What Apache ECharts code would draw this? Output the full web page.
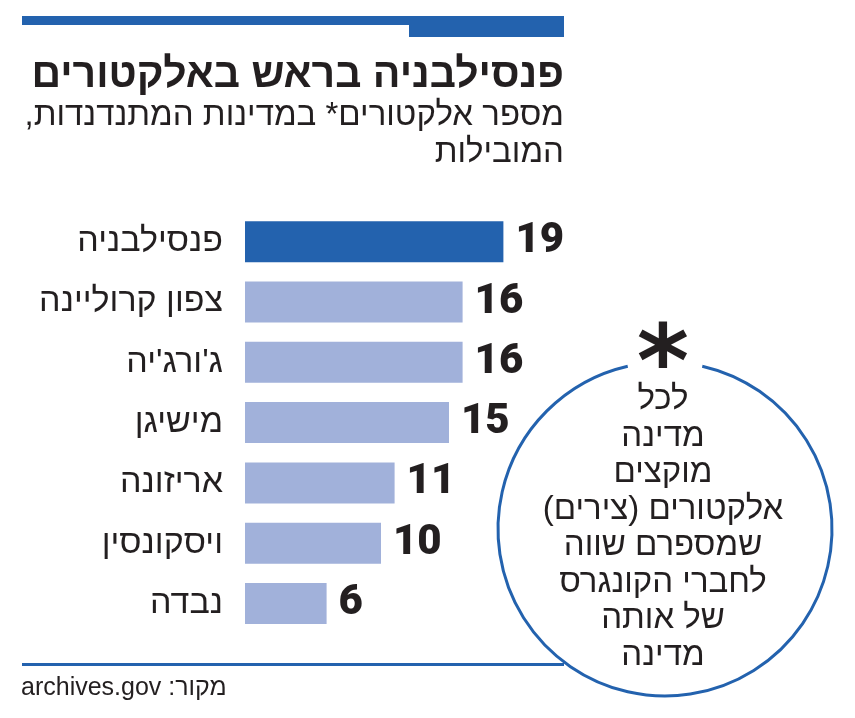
<!DOCTYPE html>
<html>
<head>
<meta charset="utf-8">
<script src="https://cdn.jsdelivr.net/npm/echarts@6/dist/echarts.min.js"></script>
<style>
html,body{margin:0;padding:0;background:#fff;}
#main{width:855px;height:718px;}
#main canvas{direction:rtl;}
</style>
</head>
<body>
<div id="main"></div>
<script>
const categories = ['פנסילבניה', 'צפון קרוליינה', "ג'ורג'יה", 'מישיגן', 'אריזונה', 'ויסקונסין', 'נבדה'];
const electors = [19, 16, 16, 15, 11, 10, 6];
const titleText = 'פנסילבניה בראש באלקטורים';
const subtitleText = 'מספר אלקטורים* במדינות המתנדנדות,\nהמובילות';
const noteMark = '*';
const noteText = 'לכל\nמדינה\nמוקצים\nאלקטורים (צירים)\nשמספרם שווה\nלחברי הקונגרס\nשל אותה\nמדינה';
const sourceText = 'מקור: archives.gov';

const DARK = '#2362ae';
const LIGHT = '#a1b1da';
const INK = '#231f20';
const HEB = '"Liberation Sans", "DejaVu Sans", sans-serif';

const chart = echarts.init(document.getElementById('main'), null, {renderer: 'canvas'});

const barData = electors.map((v, i) => ({
  value: v,
  itemStyle: {color: i === 0 ? DARK : LIGHT}
}));

chart.setOption({
  backgroundColor: '#ffffff',
  animation: false,
  grid: {left: 245, width: 272, top: 211.6, height: 422},
  xAxis: {type: 'value', min: 0, max: 20, show: false},
  yAxis: {
    type: 'category',
    data: categories,
    inverse: true,
    axisLine: {show: false},
    axisTick: {show: false},
    splitLine: {show: false},
    axisLabel: {
      margin: 22,
      fontSize: 34,
      fontFamily: HEB,
      color: INK
    }
  },
  series: [{
    type: 'bar',
    data: barData,
    barWidth: 41,
    label: {
      show: true,
      position: 'right',
      distance: 12,
      fontSize: 42,
      fontWeight: 900,
      fontFamily: 'Roboto, "DejaVu Sans", sans-serif',
      color: INK
    }
  }],
  graphic: [
    {type: 'rect', shape: {x: 22, y: 16, width: 542, height: 9}, style: {fill: DARK}},
    {type: 'rect', shape: {x: 409, y: 16, width: 155, height: 21}, style: {fill: DARK}},
    {type: 'text', x: 564, y: 76, style: {text: titleText, textAlign: 'right', textVerticalAlign: 'middle', font: 'bold 41px ' + HEB, fill: INK}},
    {type: 'text', x: 564, y: 97, style: {text: subtitleText, textAlign: 'right', textVerticalAlign: 'top', fontSize: 33, fontFamily: HEB, lineHeight: 37, fill: INK}},
    {type: 'rect', shape: {x: 22, y: 663, width: 542, height: 3}, style: {fill: DARK}},
    {type: 'text', x: 21, y: 688, style: {text: sourceText, textAlign: 'left', textVerticalAlign: 'middle', fontSize: 25, fontFamily: HEB, fill: INK}},
    {type: 'arc', shape: {cx: 665, cy: 529, r: 167, startAngle: -Math.PI / 2 + 0.225, endAngle: 3 * Math.PI / 2 - 0.225, clockwise: true}, style: {stroke: DARK, lineWidth: 3, fill: null}},
    {type: 'text', x: 663, y: 370, style: {text: noteMark, textAlign: 'center', textVerticalAlign: 'middle', font: 'bold 100px "DejaVu Sans", sans-serif', fill: INK}},
    {type: 'text', x: 663, y: 382, style: {text: noteText, textAlign: 'center', textVerticalAlign: 'top', fontSize: 33, fontFamily: HEB, lineHeight: 36.5, fill: INK}}
  ]
});
</script>
</body>
</html>
